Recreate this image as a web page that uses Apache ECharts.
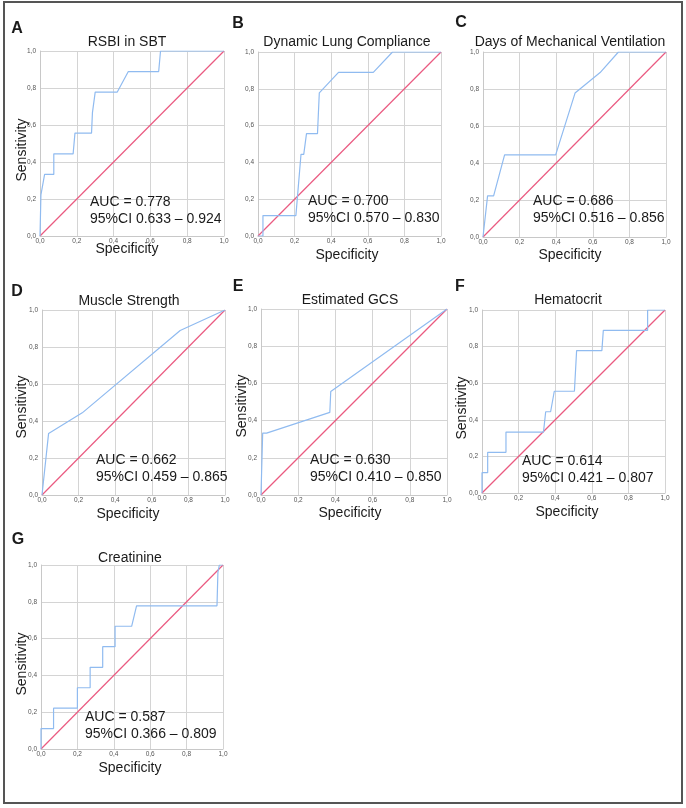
<!DOCTYPE html>
<html><head><meta charset="utf-8">
<script src="https://cdn.jsdelivr.net/npm/echarts@6/dist/echarts.min.js"></script>
<style>html,body{margin:0;padding:0;background:#fff}#c{width:686px;height:808px}</style>
</head><body><div id="c"></div>
<script>
// ---- data ----
const tickLabels = ['0,0','0,2','0,4','0,6','0,8','1,0'];
const panelLetters = ['A','B','C','D','E','F','G'];
const panelTitles = ['RSBI in SBT','Dynamic Lung Compliance','Days of Mechanical Ventilation','Muscle Strength','Estimated GCS','Hematocrit','Creatinine'];
const aucTexts = ['AUC = 0.778','AUC = 0.700','AUC = 0.686','AUC = 0.662','AUC = 0.630','AUC = 0.614','AUC = 0.587'];
const ciTexts = ['95%CI 0.633 \u2013 0.924','95%CI 0.570 \u2013 0.830','95%CI 0.516 \u2013 0.856','95%CI 0.459 \u2013 0.865','95%CI 0.410 \u2013 0.850','95%CI 0.421 \u2013 0.807','95%CI 0.366 \u2013 0.809'];
const rocA = [[0,0],[0.005,0.222],[0.015,0.222],[0.025,0.333],[0.075,0.333],[0.075,0.444],[0.18,0.444],[0.19,0.556],[0.28,0.556],[0.285,0.667],[0.29,0.667],[0.3,0.778],[0.42,0.778],[0.48,0.889],[0.645,0.889],[0.655,1],[1,1]];
const rocB = [[0,0],[0.027,0],[0.027,0.111],[0.207,0.111],[0.235,0.444],[0.25,0.444],[0.265,0.556],[0.325,0.556],[0.335,0.778],[0.44,0.889],[0.63,0.889],[0.735,1],[1,1]];
const rocC = [[0,0],[0.025,0.222],[0.058,0.222],[0.118,0.444],[0.397,0.444],[0.503,0.778],[0.64,0.889],[0.74,1],[1,1]];
const rocD = [[0,0],[0.036,0.333],[0.22,0.444],[0.755,0.889],[1,1]];
const rocE = [[0,0],[0.009,0.333],[0.03,0.333],[0.37,0.444],[0.375,0.556],[1,1]];
const rocF = [[0,0],[0,0.111],[0.031,0.111],[0.031,0.222],[0.131,0.222],[0.131,0.333],[0.336,0.333],[0.348,0.444],[0.375,0.444],[0.395,0.556],[0.505,0.556],[0.517,0.778],[0.655,0.778],[0.663,0.889],[0.905,0.889],[0.905,1],[1,1]];
const rocG = [[0,0],[0,0.111],[0.069,0.111],[0.069,0.222],[0.2,0.222],[0.2,0.333],[0.27,0.333],[0.27,0.444],[0.339,0.444],[0.339,0.556],[0.407,0.556],[0.407,0.667],[0.498,0.667],[0.525,0.778],[0.967,0.778],[0.972,0.96],[0.98,1],[1,1]];
const referenceLine = [[0,0],[1,1]];
const rocs = [rocA,rocB,rocC,rocD,rocE,rocF,rocG];
const showSens = [true,false,false,true,true,true,true];

// ---- layout ----
const layout = [
 {l:40,t:51,w:184,h:185, letter:[17,29], title:[127,42], sens:[22,150], spec:[127,249.5], auc:[90,202]},
 {l:258,t:52,w:183,h:184, letter:[238,24], title:[347,42], sens:null, spec:[347,255], auc:[308,201]},
 {l:483,t:52,w:183,h:185, letter:[461,23], title:[570,42], sens:null, spec:[570,255], auc:[533,201]},
 {l:42,t:310,w:183,h:185, letter:[17,292], title:[129,301], sens:[22,407], spec:[128,514], auc:[96,460]},
 {l:261,t:309,w:186,h:186, letter:[238,287], title:[350,300], sens:[242,406], spec:[350,513], auc:[310,460]},
 {l:482,t:310,w:183,h:183, letter:[460,287], title:[568,300], sens:[462,408], spec:[567,512], auc:[522,461]},
 {l:41,t:565,w:182,h:184, letter:[18,540], title:[130,558], sens:[22,664], spec:[130,768], auc:[85,717]}
];
const FONT = 'Liberation Sans, Arial, sans-serif';
const fmt = v => tickLabels[Math.round(v / 0.2)];
const grids = [], xAxes = [], yAxes = [], series = [], titles = [], graphics = [];
graphics.push({type:'rect', shape:{x:4,y:2,width:678,height:801}, style:{fill:'none', stroke:'#555', lineWidth:2}, z:100});
const ttl = (x, y, s, size, weight, align) => titles.push({text:s, left:x, top:y, padding:0,
  textAlign:align || 'center', textVerticalAlign:'middle',
  textStyle:{fontSize:size, fontWeight:weight || 'normal', color:'#1a1a1a', fontFamily:FONT, lineHeight:size}});
layout.forEach((p, i) => {
  grids.push({left:p.l, top:p.t, width:p.w, height:p.h});
  const mk = (margin) => ({type:'value', min:0, max:1, interval:0.2, gridIndex:i,
    axisLine:{show:true, lineStyle:{color:'#c8c8c8', width:1}},
    axisTick:{show:false},
    splitLine:{show:true, lineStyle:{color:'#d4d4d4', width:1}},
    axisLabel:{fontSize:6.5, lineHeight:7, color:'#555', fontFamily:FONT, margin:margin, formatter:fmt}});
  xAxes.push(mk(1.5));
  yAxes.push(mk(4));
  series.push({type:'line', xAxisIndex:i, yAxisIndex:i, data:referenceLine, showSymbol:false, silent:true, z:2,
    lineStyle:{color:'#ea5a80', width:1.2}, itemStyle:{color:'#ea5a80'}});
  series.push({type:'line', xAxisIndex:i, yAxisIndex:i, data:rocs[i], showSymbol:false, silent:true, z:3,
    lineStyle:{color:'#90bbf0', width:1.2}, itemStyle:{color:'#90bbf0'}});
  ttl(p.letter[0], p.letter[1], panelLetters[i], 16, 'bold');
  ttl(p.title[0], p.title[1], panelTitles[i], 14);
  ttl(p.spec[0], p.spec[1], 'Specificity', 14);
  ttl(p.auc[0], p.auc[1], aucTexts[i], 14, 'normal', 'left');
  ttl(p.auc[0], p.auc[1] + 17, ciTexts[i], 14, 'normal', 'left');
  if (showSens[i]) graphics.push({type:'text', x:p.sens[0], y:p.sens[1], rotation:Math.PI / 2,
    style:{text:'Sensitivity', font:'14px ' + FONT, fill:'#1a1a1a', align:'center', verticalAlign:'middle'}});
});
const chart = echarts.init(document.getElementById('c'));
chart.setOption({animation:false, backgroundColor:'#fff', title:titles, grid:grids, xAxis:xAxes, yAxis:yAxes, series:series, graphic:graphics});
</script></body></html>
